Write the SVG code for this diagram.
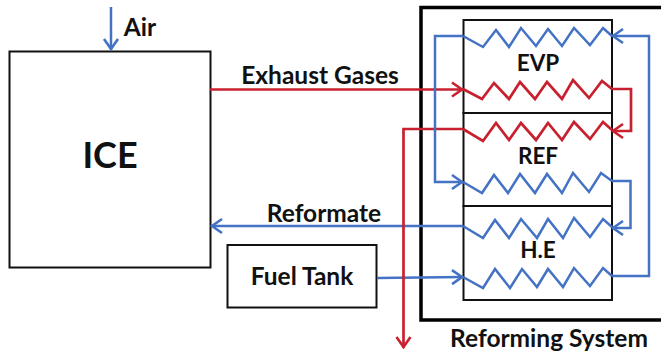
<svg xmlns="http://www.w3.org/2000/svg" width="661" height="357" viewBox="0 0 661 357">
<style>
.box{fill:none;stroke:#111;stroke-width:2}
.outer{fill:none;stroke:#000;stroke-width:3.5}
.b{fill:none;stroke:#4472C4;stroke-width:2.5;stroke-linejoin:miter}
.r{fill:none;stroke:#C9202F;stroke-width:2.7;stroke-linejoin:miter}
text{font-family:"Lato","Liberation Sans",sans-serif;font-weight:700;fill:#111;text-anchor:middle}
.t{font-size:24.5px}
.u{font-size:22.5px}
.c{fill:none;stroke-width:2.6}
</style>
<defs>
<marker id="ab" markerUnits="userSpaceOnUse" markerWidth="16" markerHeight="18" refX="14" refY="9" orient="auto" overflow="visible"><path class="c" d="M3 2L13 9L3 16" stroke="#4472C4"/></marker>
<marker id="ar" markerUnits="userSpaceOnUse" markerWidth="16" markerHeight="18" refX="14" refY="9" orient="auto" overflow="visible"><path class="c" d="M3 2L13 9L3 16" stroke="#C9202F"/></marker>
</defs>
<rect width="661" height="357" fill="#fff"/>
<g id="reforming-system"><path class="outer" d="M661 7.500H421V320H661"/><text class="t" x="549" y="347">Reforming System</text></g>
<g id="ice"><rect class="box" x="9.500" y="51.500" width="201" height="216"/><text x="110" y="168" style="font-size:36px">ICE</text></g>
<g id="fuel-tank"><rect class="box" x="227.500" y="245" width="149" height="62.500"/><text class="t" x="302" y="285">Fuel Tank</text></g>
<g id="evp"><rect class="box" x="463.500" y="20" width="148.500" height="93"/><text class="u" x="538" y="71">EVP</text></g>
<g id="ref"><rect class="box" x="463.500" y="113" width="148.500" height="93"/><text class="u" x="538" y="164">REF</text></g>
<g id="he"><rect class="box" x="463.500" y="206" width="148.500" height="94"/><text class="u" x="538" y="258">H.E</text></g>
<g id="labels">
<text class="t" x="140" y="36">Air</text>
<text class="t" x="320" y="84">Exhaust Gases</text>
<text class="t" x="324" y="222">Reformate</text>
</g>
<g id="connectors">
<path class="b" marker-end="url(#ab)" d="M111 7V50"/>
<path class="r" marker-end="url(#ar)" d="M210 89.500H463"/>
<path class="b" marker-end="url(#ab)" d="M463 226H211"/>
<path class="b" marker-end="url(#ab)" d="M377 278L463 277"/>
<path class="r" marker-end="url(#ar)" d="M463 129H403.500V348"/>
<path class="b" d="M463 36L483 47L496 30L509 47L521 28L536 46L548 29L562 46L574 28L590 45L603 28L612 36"/>
<path class="r" d="M463 89L482 99L494 83L509 99L520 82L535 99L547 82L562 99L573 80L589 98L602 81L612 89"/>
<path class="r" d="M463 129L483 141L496 123L509 140L521 123L536 140L548 123L562 140L574 122L590 139L603 122L612 130"/>
<path class="b" d="M463 182L482 193L494 175L508 193L520 174L535 193L547 174L562 193L573 173L589 192L601 173L612 181"/>
<path class="b" d="M463 226L483 238L495 220L509 238L521 219L537 238L548 219L563 238L574 218L590 237L603 219L612 227"/>
<path class="b" d="M463 277L483 288L495 269L510 288L522 269L537 287L548 269L563 287L574 268L590 286L603 268L612 276"/>
<path class="b" marker-end="url(#ab)" d="M463 36H435V182H463"/>
<path class="b" marker-end="url(#ab)" d="M612 276H649V36H612"/>
<path class="b" marker-end="url(#ab)" d="M612 181H630.500V228H612"/>
<path class="r" marker-end="url(#ar)" d="M612 89H631V131H612"/>
</g>
</svg>
